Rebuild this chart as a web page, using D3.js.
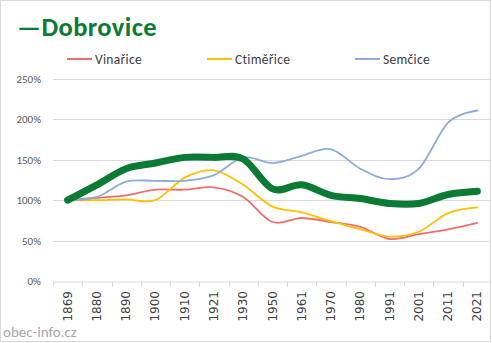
<!DOCTYPE html>
<html>
<head>
<meta charset="utf-8">
<script src="https://cdn.jsdelivr.net/npm/d3@7"></script>
<style>
  body { margin: 0; background: #fff; }
  svg { display: block; }
</style>
</head>
<body>
<div class="chart"></div>
<script>
// census years
const years = ["1869","1880","1890","1900","1910","1921","1930","1950","1961","1970","1980","1991","2001","2011","2021"];
// population relative to 1869, in %
const dobrovice = [100,119,139,146,153,153,151,114,119,106,102,96,96,107,111];
const vinarice  = [100,103,106,113,113,116,104,73,78,73,67,52,58,64,72];
const ctimerice = [100,100,101,100,128,137,119,92,85,74,64,55,61,84,91];
const semcice   = [100,104,123,124,124,131,153,146,155,163,139,126,139,196,211];
const yTicks = [0,50,100,150,200,250];

const W = 492, H = 343;
const font = "Calibri, Carlito, Lato, sans-serif";

const svg = d3.select(".chart").append("svg")
  .attr("width", W).attr("height", H);

// frame
svg.append("rect")
  .attr("x", 0.5).attr("y", 0.5)
  .attr("width", 490).attr("height", 341)
  .attr("fill", "#fff").attr("stroke", "#d9d9d9");

const plot = {left: 53, right: 492, top: 79, bottom: 281};

const x = d3.scaleBand().domain(years).range([plot.left, plot.right]);
const y = d3.scaleLinear().domain([0, 250]).range([plot.bottom, plot.top]);

svg.append("clipPath").attr("id", "frameClip")
  .append("rect").attr("x", 1).attr("y", 1).attr("width", 489).attr("height", 340);

const g = svg.append("g").attr("clip-path", "url(#frameClip)");

// gridlines
g.selectAll(".grid")
  .data(yTicks.filter(d => d > 0))
  .join("line")
  .attr("x1", plot.left).attr("x2", plot.right)
  .attr("y1", d => Math.round(y(d)) + 0.5).attr("y2", d => Math.round(y(d)) + 0.5)
  .attr("stroke", "#d9d9d9").attr("stroke-width", 1);

// x axis
const xAxis = g.append("g")
  .attr("transform", `translate(0, ${Math.round(y(0)) + 0.5})`)
  .call(d3.axisBottom(x).tickSize(0).tickFormat(""));
xAxis.select(".domain").attr("stroke", "#d9d9d9");
g.selectAll(".xtick")
  .data(years.concat(["end"]))
  .join("line")
  .attr("x1", (d, i) => Math.round(plot.left + i * x.step()) + 0.5)
  .attr("x2", (d, i) => Math.round(plot.left + i * x.step()) + 0.5)
  .attr("y1", Math.round(y(0))).attr("y2", Math.round(y(0)) + 6)
  .attr("stroke", "#d9d9d9");

svg.selectAll(".xlab")
  .data(years)
  .join("text")
  .attr("transform", d => `translate(${x(d) + x.bandwidth() / 2 + 4}, 291) rotate(-90)`)
  .attr("text-anchor", "end")
  .attr("font-family", "DejaVu Sans, sans-serif")
  .attr("font-size", 12)
  .attr("fill", "#404040")
  .text(d => d);

// y labels
svg.selectAll(".ylab")
  .data(yTicks)
  .join("text")
  .attr("x", 41)
  .attr("y", d => y(d) + 4)
  .attr("text-anchor", "end")
  .attr("font-family", font)
  .attr("font-size", 11)
  .attr("fill", "#595959")
  .text(d => d + "%");

// series
const series = [
  {name: "Vinařice", values: vinarice, color: "#ee6e6c", width: 1.8},
  {name: "Ctiměřice", values: ctimerice, color: "#ffc000", width: 1.8},
  {name: "Semčice", values: semcice, color: "#8faadc", width: 1.8},
  {name: "Dobrovice", values: dobrovice, color: "#0a7a35", width: 7}
];

const line = d3.line()
  .x((d, i) => x(years[i]) + x.bandwidth() / 2)
  .y(d => y(d))
  .curve(d3.curveCardinal.tension(0));

g.selectAll(".series")
  .data(series)
  .join("path")
  .attr("d", d => line(d.values))
  .attr("fill", "none")
  .attr("stroke", d => d.color)
  .attr("stroke-width", d => d.width)
  .attr("stroke-linecap", "round")
  .attr("stroke-linejoin", "round");

// title
svg.append("text")
  .attr("x", 17).attr("y", 36)
  .attr("font-family", font)
  .attr("font-weight", "bold")
  .attr("font-size", 26.5)
  .attr("letter-spacing", 0.4)
  .attr("fill", "#0a7a35")
  .text("—Dobrovice");

// legend
const legendX = [67, 207, 355];
const leg = svg.selectAll(".leg")
  .data(series.slice(0, 3))
  .join("g")
  .attr("transform", (d, i) => `translate(${legendX[i]}, 59)`);
leg.append("line")
  .attr("x1", 0).attr("x2", 25)
  .attr("stroke", d => d.color).attr("stroke-width", 2);
leg.append("text")
  .attr("x", 28).attr("y", 4.5)
  .attr("font-family", font)
  .attr("font-size", 13.5)
  .attr("letter-spacing", 0.3)
  .attr("fill", "#404040")
  .text(d => d.name);

// source
svg.append("text")
  .attr("x", 3).attr("y", 337)
  .attr("font-family", font)
  .attr("font-size", 15)
  .attr("fill", "#a6a6a6")
  .text("obec-info.cz");
</script>
</body>
</html>
